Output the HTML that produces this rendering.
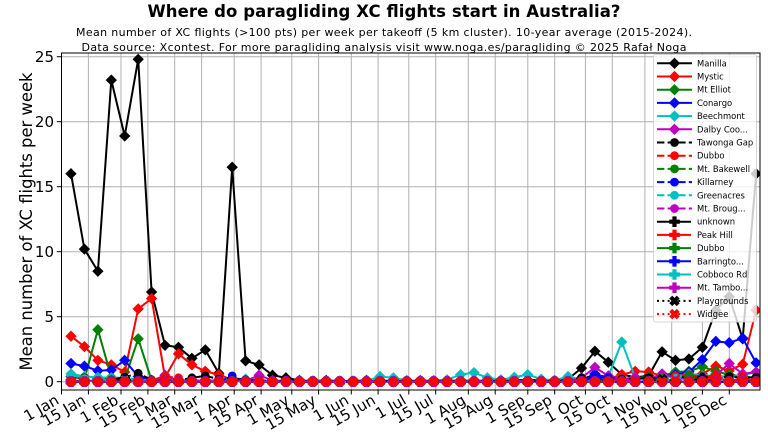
<!DOCTYPE html>
<html><head><meta charset="utf-8">
<style>
html,body{margin:0;padding:0;background:#fff;width:768px;height:432px;overflow:hidden}
svg{display:block}
text{font-family:"DejaVu Sans","Liberation Sans",sans-serif;fill:#000}
</style></head>
<body>
<svg width="768" height="432" viewBox="0 0 768 432" xmlns="http://www.w3.org/2000/svg">
<defs>
<clipPath id="ax"><rect x="61.5" y="53" width="698.5" height="337"/></clipPath>
<marker id="Dk" markerUnits="userSpaceOnUse" markerWidth="14" markerHeight="14" viewBox="-7 -7 14 14" refX="0" refY="0" overflow="visible"><path d="M0,-4.8L4.8,0L0,4.8L-4.8,0Z" fill="#000" stroke="#000" stroke-width="1.2"/></marker>
<marker id="Dr" markerUnits="userSpaceOnUse" markerWidth="14" markerHeight="14" viewBox="-7 -7 14 14" refX="0" refY="0" overflow="visible"><path d="M0,-4.8L4.8,0L0,4.8L-4.8,0Z" fill="#f00" stroke="#f00" stroke-width="1.2"/></marker>
<marker id="Dg" markerUnits="userSpaceOnUse" markerWidth="14" markerHeight="14" viewBox="-7 -7 14 14" refX="0" refY="0" overflow="visible"><path d="M0,-4.8L4.8,0L0,4.8L-4.8,0Z" fill="#008000" stroke="#008000" stroke-width="1.2"/></marker>
<marker id="Db" markerUnits="userSpaceOnUse" markerWidth="14" markerHeight="14" viewBox="-7 -7 14 14" refX="0" refY="0" overflow="visible"><path d="M0,-4.8L4.8,0L0,4.8L-4.8,0Z" fill="#00f" stroke="#00f" stroke-width="1.2"/></marker>
<marker id="Dc" markerUnits="userSpaceOnUse" markerWidth="14" markerHeight="14" viewBox="-7 -7 14 14" refX="0" refY="0" overflow="visible"><path d="M0,-4.8L4.8,0L0,4.8L-4.8,0Z" fill="#00bfbf" stroke="#00bfbf" stroke-width="1.2"/></marker>
<marker id="Dm" markerUnits="userSpaceOnUse" markerWidth="14" markerHeight="14" viewBox="-7 -7 14 14" refX="0" refY="0" overflow="visible"><path d="M0,-4.8L4.8,0L0,4.8L-4.8,0Z" fill="#bf00bf" stroke="#bf00bf" stroke-width="1.2"/></marker>
<marker id="Ok" markerUnits="userSpaceOnUse" markerWidth="14" markerHeight="14" viewBox="-7 -7 14 14" refX="0" refY="0" overflow="visible"><circle r="3.8" fill="#000" stroke="#000" stroke-width="1.2"/></marker>
<marker id="Or" markerUnits="userSpaceOnUse" markerWidth="14" markerHeight="14" viewBox="-7 -7 14 14" refX="0" refY="0" overflow="visible"><circle r="3.8" fill="#f00" stroke="#f00" stroke-width="1.2"/></marker>
<marker id="Og" markerUnits="userSpaceOnUse" markerWidth="14" markerHeight="14" viewBox="-7 -7 14 14" refX="0" refY="0" overflow="visible"><circle r="3.8" fill="#008000" stroke="#008000" stroke-width="1.2"/></marker>
<marker id="Ob" markerUnits="userSpaceOnUse" markerWidth="14" markerHeight="14" viewBox="-7 -7 14 14" refX="0" refY="0" overflow="visible"><circle r="3.8" fill="#00f" stroke="#00f" stroke-width="1.2"/></marker>
<marker id="Oc" markerUnits="userSpaceOnUse" markerWidth="14" markerHeight="14" viewBox="-7 -7 14 14" refX="0" refY="0" overflow="visible"><circle r="3.8" fill="#00bfbf" stroke="#00bfbf" stroke-width="1.2"/></marker>
<marker id="Om" markerUnits="userSpaceOnUse" markerWidth="14" markerHeight="14" viewBox="-7 -7 14 14" refX="0" refY="0" overflow="visible"><circle r="3.8" fill="#bf00bf" stroke="#bf00bf" stroke-width="1.2"/></marker>
<marker id="Pk" markerUnits="userSpaceOnUse" markerWidth="14" markerHeight="14" viewBox="-7 -7 14 14" refX="0" refY="0" overflow="visible"><path d="M-1.6,-4.8H1.6V-1.6H4.8V1.6H1.6V4.8H-1.6V1.6H-4.8V-1.6H-1.6Z" fill="#000" stroke="#000" stroke-width="1"/></marker>
<marker id="Pr" markerUnits="userSpaceOnUse" markerWidth="14" markerHeight="14" viewBox="-7 -7 14 14" refX="0" refY="0" overflow="visible"><path d="M-1.6,-4.8H1.6V-1.6H4.8V1.6H1.6V4.8H-1.6V1.6H-4.8V-1.6H-1.6Z" fill="#f00" stroke="#f00" stroke-width="1"/></marker>
<marker id="Pg" markerUnits="userSpaceOnUse" markerWidth="14" markerHeight="14" viewBox="-7 -7 14 14" refX="0" refY="0" overflow="visible"><path d="M-1.6,-4.8H1.6V-1.6H4.8V1.6H1.6V4.8H-1.6V1.6H-4.8V-1.6H-1.6Z" fill="#008000" stroke="#008000" stroke-width="1"/></marker>
<marker id="Pb" markerUnits="userSpaceOnUse" markerWidth="14" markerHeight="14" viewBox="-7 -7 14 14" refX="0" refY="0" overflow="visible"><path d="M-1.6,-4.8H1.6V-1.6H4.8V1.6H1.6V4.8H-1.6V1.6H-4.8V-1.6H-1.6Z" fill="#00f" stroke="#00f" stroke-width="1"/></marker>
<marker id="Pc" markerUnits="userSpaceOnUse" markerWidth="14" markerHeight="14" viewBox="-7 -7 14 14" refX="0" refY="0" overflow="visible"><path d="M-1.6,-4.8H1.6V-1.6H4.8V1.6H1.6V4.8H-1.6V1.6H-4.8V-1.6H-1.6Z" fill="#00bfbf" stroke="#00bfbf" stroke-width="1"/></marker>
<marker id="Pm" markerUnits="userSpaceOnUse" markerWidth="14" markerHeight="14" viewBox="-7 -7 14 14" refX="0" refY="0" overflow="visible"><path d="M-1.6,-4.8H1.6V-1.6H4.8V1.6H1.6V4.8H-1.6V1.6H-4.8V-1.6H-1.6Z" fill="#bf00bf" stroke="#bf00bf" stroke-width="1"/></marker>
<marker id="Xk" markerUnits="userSpaceOnUse" markerWidth="14" markerHeight="14" viewBox="-7 -7 14 14" refX="0" refY="0" overflow="visible"><path transform="rotate(45)" d="M-1.6,-4.8H1.6V-1.6H4.8V1.6H1.6V4.8H-1.6V1.6H-4.8V-1.6H-1.6Z" fill="#000" stroke="#000" stroke-width="1"/></marker>
<marker id="Xr" markerUnits="userSpaceOnUse" markerWidth="14" markerHeight="14" viewBox="-7 -7 14 14" refX="0" refY="0" overflow="visible"><path transform="rotate(45)" d="M-1.6,-4.8H1.6V-1.6H4.8V1.6H1.6V4.8H-1.6V1.6H-4.8V-1.6H-1.6Z" fill="#f00" stroke="#f00" stroke-width="1"/></marker>
</defs>

<rect width="768" height="432" fill="#fff"/>

<!-- grid -->
<g stroke="#b0b0b0" stroke-width="1" fill="none">
<line x1="61.5" y1="381.7" x2="760" y2="381.7"/>
<line x1="61.5" y1="316.7" x2="760" y2="316.7"/>
<line x1="61.5" y1="251.7" x2="760" y2="251.7"/>
<line x1="61.5" y1="186.7" x2="760" y2="186.7"/>
<line x1="61.5" y1="121.7" x2="760" y2="121.7"/>
<line x1="61.5" y1="56.7" x2="760" y2="56.7"/>
<line x1="88.4" y1="53" x2="88.4" y2="390"/>
<line x1="121.0" y1="53" x2="121.0" y2="390"/>
<line x1="147.9" y1="53" x2="147.9" y2="390"/>
<line x1="174.7" y1="53" x2="174.7" y2="390"/>
<line x1="201.6" y1="53" x2="201.6" y2="390"/>
<line x1="234.2" y1="53" x2="234.2" y2="390"/>
<line x1="261.1" y1="53" x2="261.1" y2="390"/>
<line x1="291.8" y1="53" x2="291.8" y2="390"/>
<line x1="318.6" y1="53" x2="318.6" y2="390"/>
<line x1="351.3" y1="53" x2="351.3" y2="390"/>
<line x1="378.1" y1="53" x2="378.1" y2="390"/>
<line x1="408.8" y1="53" x2="408.8" y2="390"/>
<line x1="435.7" y1="53" x2="435.7" y2="390"/>
<line x1="468.3" y1="53" x2="468.3" y2="390"/>
<line x1="495.2" y1="53" x2="495.2" y2="390"/>
<line x1="527.8" y1="53" x2="527.8" y2="390"/>
<line x1="554.7" y1="53" x2="554.7" y2="390"/>
<line x1="585.4" y1="53" x2="585.4" y2="390"/>
<line x1="612.3" y1="53" x2="612.3" y2="390"/>
<line x1="644.9" y1="53" x2="644.9" y2="390"/>
<line x1="671.7" y1="53" x2="671.7" y2="390"/>
<line x1="702.4" y1="53" x2="702.4" y2="390"/>
<line x1="729.3" y1="53" x2="729.3" y2="390"/>
</g>

<!-- series -->
<g clip-path="url(#ax)" fill="none" stroke-width="2" stroke-linejoin="round">
<polyline stroke="#000" marker-start="url(#Dk)" marker-mid="url(#Dk)" marker-end="url(#Dk)" points="71.0,173.7 84.4,249.1 97.9,271.2 111.3,80.1 124.7,136.0 138.2,59.3 151.6,292.0 165.0,345.3 178.5,347.3 191.9,358.3 205.3,349.9 218.8,373.2 232.2,167.2 245.6,360.9 259.1,364.8 272.5,375.2 285.9,377.8 299.4,380.4 312.8,381.1 326.2,380.4 339.7,381.1 353.1,381.1 366.5,380.4 380.0,381.1 393.4,381.7 406.8,381.7 420.3,381.1 433.7,381.1 447.1,381.1 460.6,380.4 474.0,381.1 487.4,380.4 500.9,381.1 514.3,380.4 527.7,379.7 541.2,380.4 554.6,380.4 568.0,379.1 581.5,368.1 594.9,351.2 608.3,362.2 621.8,374.6 635.2,377.2 648.6,375.9 662.1,351.8 675.5,360.3 688.9,359.0 702.4,347.3 715.8,310.2 729.2,296.6 742.7,338.8 756.1,173.7"/>
<polyline stroke="#f00" marker-start="url(#Dr)" marker-mid="url(#Dr)" marker-end="url(#Dr)" points="71.0,336.2 84.4,346.6 97.9,360.3 111.3,364.8 124.7,372.0 138.2,308.9 151.6,298.5 165.0,377.2 178.5,353.8 191.9,364.8 205.3,371.3 218.8,374.6 232.2,379.8 245.6,380.4 259.1,381.1 272.5,381.1 285.9,381.1 299.4,381.1 312.8,381.1 326.2,381.1 339.7,381.1 353.1,381.1 366.5,381.1 380.0,381.1 393.4,380.4 406.8,381.1 420.3,381.1 433.7,381.1 447.1,381.1 460.6,381.1 474.0,381.1 487.4,381.1 500.9,381.1 514.3,381.1 527.7,380.4 541.2,381.1 554.6,381.1 568.0,381.1 581.5,380.4 594.9,379.8 608.3,379.1 621.8,374.6 635.2,371.3 648.6,372.0 662.1,375.9 675.5,372.6 688.9,375.2 702.4,373.9 715.8,366.1 729.2,370.7 742.7,364.2 756.1,310.2"/>
<polyline stroke="#008000" marker-start="url(#Dg)" marker-mid="url(#Dg)" marker-end="url(#Dg)" points="71.0,376.5 84.4,379.1 97.9,329.7 111.3,377.2 124.7,379.1 138.2,338.8 151.6,380.4 165.0,381.1 178.5,381.1 191.9,381.1 205.3,381.1 218.8,381.1 232.2,381.1 245.6,381.1 259.1,381.1 272.5,381.1 285.9,381.1 299.4,381.1 312.8,381.1 326.2,381.1 339.7,381.1 353.1,381.1 366.5,381.1 380.0,381.1 393.4,381.1 406.8,381.1 420.3,381.1 433.7,381.1 447.1,381.1 460.6,381.1 474.0,381.1 487.4,381.1 500.9,381.1 514.3,381.1 527.7,381.1 541.2,381.1 554.6,381.1 568.0,381.1 581.5,381.1 594.9,380.4 608.3,380.4 621.8,379.1 635.2,377.8 648.6,377.2 662.1,375.9 675.5,372.0 688.9,371.3 702.4,366.8 715.8,371.3 729.2,374.6 742.7,376.5 756.1,377.8"/>
<polyline stroke="#00f" marker-start="url(#Db)" marker-mid="url(#Db)" marker-end="url(#Db)" points="71.0,363.5 84.4,366.1 97.9,370.7 111.3,370.0 124.7,360.3 138.2,376.5 151.6,380.4 165.0,381.3 178.5,381.3 191.9,381.3 205.3,381.3 218.8,381.3 232.2,380.4 245.6,381.3 259.1,381.3 272.5,381.3 285.9,381.3 299.4,381.3 312.8,381.3 326.2,381.3 339.7,381.3 353.1,381.3 366.5,381.3 380.0,381.3 393.4,381.3 406.8,381.3 420.3,381.3 433.7,381.3 447.1,381.3 460.6,381.3 474.0,381.3 487.4,381.3 500.9,381.3 514.3,381.3 527.7,381.3 541.2,381.3 554.6,381.3 568.0,381.3 581.5,380.4 594.9,373.9 608.3,377.8 621.8,379.8 635.2,378.5 648.6,378.5 662.1,376.5 675.5,374.6 688.9,372.0 702.4,359.6 715.8,341.4 729.2,342.7 742.7,338.2 756.1,362.9"/>
<polyline stroke="#00bfbf" marker-start="url(#Dc)" marker-mid="url(#Dc)" marker-end="url(#Dc)" points="71.0,373.9 84.4,376.5 97.9,377.2 111.3,377.8 124.7,377.8 138.2,379.8 151.6,380.4 165.0,379.1 178.5,379.8 191.9,380.4 205.3,380.4 218.8,380.4 232.2,378.5 245.6,379.1 259.1,380.4 272.5,381.1 285.9,381.1 299.4,381.1 312.8,381.1 326.2,381.1 339.7,381.1 353.1,381.1 366.5,381.1 380.0,376.5 393.4,377.8 406.8,380.4 420.3,381.1 433.7,380.4 447.1,379.8 460.6,374.6 474.0,372.6 487.4,377.8 500.9,379.8 514.3,377.2 527.7,374.6 541.2,379.1 554.6,380.4 568.0,376.5 581.5,379.8 594.9,379.1 608.3,376.5 621.8,342.0 635.2,377.8 648.6,379.1 662.1,377.8 675.5,376.5 688.9,373.9 702.4,375.9 715.8,375.2 729.2,377.2 742.7,375.2 756.1,372.0"/>
<polyline stroke="#bf00bf" marker-start="url(#Dm)" marker-mid="url(#Dm)" marker-end="url(#Dm)" points="71.0,381.1 84.4,380.4 97.9,381.1 111.3,381.1 124.7,381.1 138.2,381.1 151.6,381.1 165.0,375.2 178.5,381.1 191.9,381.1 205.3,381.1 218.8,381.1 232.2,381.1 245.6,381.1 259.1,375.2 272.5,380.4 285.9,381.1 299.4,381.1 312.8,381.1 326.2,381.1 339.7,381.1 353.1,381.1 366.5,381.1 380.0,381.1 393.4,381.1 406.8,381.1 420.3,380.4 433.7,381.1 447.1,381.1 460.6,381.1 474.0,381.1 487.4,381.1 500.9,381.1 514.3,381.1 527.7,381.1 541.2,381.1 554.6,381.1 568.0,381.1 581.5,377.8 594.9,367.4 608.3,375.9 621.8,379.1 635.2,377.2 648.6,379.1 662.1,373.9 675.5,377.8 688.9,379.1 702.4,377.2 715.8,375.2 729.2,363.5 742.7,373.9 756.1,372.0"/>
<polyline stroke="#000" stroke-dasharray="7.4 3.2" marker-start="url(#Ok)" marker-mid="url(#Ok)" marker-end="url(#Ok)" points="71.0,377.2 84.4,377.8 97.9,379.1 111.3,379.8 124.7,377.2 138.2,373.3 151.6,379.8 165.0,380.4 178.5,380.4 191.9,377.8 205.3,375.9 218.8,379.1 232.2,377.8 245.6,379.8 259.1,380.4 272.5,381.1 285.9,381.1 299.4,381.1 312.8,381.1 326.2,381.1 339.7,381.1 353.1,381.1 366.5,381.1 380.0,381.1 393.4,381.1 406.8,381.1 420.3,381.1 433.7,381.1 447.1,381.1 460.6,381.1 474.0,381.1 487.4,381.1 500.9,381.1 514.3,381.1 527.7,381.1 541.2,381.1 554.6,381.1 568.0,381.1 581.5,377.8 594.9,376.5 608.3,377.8 621.8,379.1 635.2,379.1 648.6,377.8 662.1,379.1 675.5,377.8 688.9,376.5 702.4,377.8 715.8,377.8 729.2,376.5 742.7,377.8 756.1,377.2"/>
<polyline stroke="#f00" stroke-dasharray="7.4 3.2" marker-start="url(#Or)" marker-mid="url(#Or)" marker-end="url(#Or)" points="71.0,381.7 84.4,381.7 97.9,381.7 111.3,381.7 124.7,381.7 138.2,381.7 151.6,381.7 165.0,376.5 178.5,377.8 191.9,381.7 205.3,381.7 218.8,381.7 232.2,381.7 245.6,381.7 259.1,381.7 272.5,381.7 285.9,381.7 299.4,381.7 312.8,381.7 326.2,381.7 339.7,381.7 353.1,381.7 366.5,381.7 380.0,381.7 393.4,381.7 406.8,381.7 420.3,381.7 433.7,381.7 447.1,381.7 460.6,381.7 474.0,381.7 487.4,381.7 500.9,381.7 514.3,381.7 527.7,381.7 541.2,381.7 554.6,381.7 568.0,381.7 581.5,381.7 594.9,381.7 608.3,377.8 621.8,381.7 635.2,381.7 648.6,381.7 662.1,381.7 675.5,375.9 688.9,374.6 702.4,377.2 715.8,376.5 729.2,381.7 742.7,377.8 756.1,381.7"/>
<polyline stroke="#008000" stroke-dasharray="7.4 3.2" marker-start="url(#Og)" marker-mid="url(#Og)" marker-end="url(#Og)" points="71.0,381.7 84.4,381.7 97.9,381.7 111.3,381.7 124.7,381.7 138.2,381.7 151.6,381.7 165.0,381.7 178.5,381.7 191.9,381.7 205.3,381.7 218.8,381.7 232.2,381.7 245.6,381.7 259.1,381.7 272.5,381.7 285.9,381.7 299.4,381.7 312.8,381.7 326.2,381.7 339.7,381.7 353.1,381.7 366.5,381.7 380.0,381.7 393.4,381.7 406.8,381.7 420.3,381.7 433.7,381.7 447.1,381.7 460.6,381.7 474.0,381.7 487.4,381.7 500.9,381.7 514.3,381.7 527.7,381.7 541.2,381.7 554.6,381.7 568.0,381.7 581.5,381.7 594.9,381.7 608.3,381.7 621.8,381.7 635.2,381.7 648.6,381.7 662.1,377.8 675.5,381.7 688.9,375.2 702.4,381.7 715.8,376.5 729.2,381.7 742.7,381.7 756.1,381.7"/>
<polyline stroke="#00f" stroke-dasharray="7.4 3.2" marker-start="url(#Ob)" marker-mid="url(#Ob)" marker-end="url(#Ob)" points="71.0,381.7 84.4,381.7 97.9,381.7 111.3,381.7 124.7,381.7 138.2,381.7 151.6,381.7 165.0,381.7 178.5,381.7 191.9,381.7 205.3,381.7 218.8,381.7 232.2,375.9 245.6,381.7 259.1,381.7 272.5,381.7 285.9,381.7 299.4,381.7 312.8,381.7 326.2,381.7 339.7,381.7 353.1,381.7 366.5,381.7 380.0,381.7 393.4,381.7 406.8,381.7 420.3,381.7 433.7,381.7 447.1,381.7 460.6,381.7 474.0,381.7 487.4,381.7 500.9,381.7 514.3,381.7 527.7,381.7 541.2,381.7 554.6,381.7 568.0,381.7 581.5,381.7 594.9,374.6 608.3,377.8 621.8,381.7 635.2,381.7 648.6,381.7 662.1,381.7 675.5,381.7 688.9,381.7 702.4,377.8 715.8,381.7 729.2,381.7 742.7,381.7 756.1,381.7"/>
<polyline stroke="#00bfbf" stroke-dasharray="7.4 3.2" marker-start="url(#Oc)" marker-mid="url(#Oc)" marker-end="url(#Oc)" points="71.0,375.2 84.4,378.5 97.9,377.8 111.3,381.7 124.7,379.1 138.2,381.7 151.6,381.7 165.0,381.7 178.5,381.7 191.9,381.7 205.3,381.7 218.8,381.7 232.2,381.7 245.6,381.7 259.1,381.7 272.5,381.7 285.9,381.7 299.4,381.7 312.8,381.7 326.2,381.7 339.7,381.7 353.1,381.7 366.5,381.7 380.0,381.7 393.4,381.7 406.8,381.7 420.3,381.7 433.7,381.7 447.1,381.7 460.6,381.7 474.0,381.7 487.4,381.7 500.9,381.7 514.3,381.7 527.7,381.7 541.2,381.7 554.6,381.7 568.0,381.7 581.5,381.7 594.9,381.7 608.3,381.7 621.8,381.7 635.2,381.7 648.6,381.7 662.1,381.7 675.5,381.7 688.9,381.7 702.4,381.7 715.8,381.7 729.2,381.7 742.7,381.7 756.1,381.7"/>
<polyline stroke="#bf00bf" stroke-dasharray="7.4 3.2" marker-start="url(#Om)" marker-mid="url(#Om)" marker-end="url(#Om)" points="71.0,381.7 84.4,381.7 97.9,381.7 111.3,381.7 124.7,381.7 138.2,381.7 151.6,381.7 165.0,381.7 178.5,381.7 191.9,381.7 205.3,381.7 218.8,381.7 232.2,381.7 245.6,381.7 259.1,381.7 272.5,381.7 285.9,381.7 299.4,381.7 312.8,381.7 326.2,381.7 339.7,381.7 353.1,381.7 366.5,381.7 380.0,381.7 393.4,381.7 406.8,381.7 420.3,381.7 433.7,381.7 447.1,381.7 460.6,381.7 474.0,381.7 487.4,381.7 500.9,381.7 514.3,381.7 527.7,381.7 541.2,381.7 554.6,381.7 568.0,381.7 581.5,381.7 594.9,381.7 608.3,381.7 621.8,381.7 635.2,377.8 648.6,381.7 662.1,381.7 675.5,381.7 688.9,381.7 702.4,381.7 715.8,376.5 729.2,381.7 742.7,381.7 756.1,381.7"/>
<polyline stroke="#000" stroke-dasharray="12.8 3.2 2 3.2" marker-start="url(#Pk)" marker-mid="url(#Pk)" marker-end="url(#Pk)" points="71.0,381.7 84.4,381.7 97.9,381.7 111.3,381.7 124.7,379.1 138.2,381.7 151.6,381.7 165.0,381.7 178.5,381.7 191.9,381.7 205.3,381.7 218.8,381.7 232.2,381.7 245.6,381.7 259.1,381.7 272.5,381.7 285.9,381.7 299.4,381.7 312.8,381.7 326.2,381.7 339.7,381.7 353.1,381.7 366.5,381.7 380.0,381.7 393.4,381.7 406.8,381.7 420.3,381.7 433.7,381.7 447.1,381.7 460.6,381.7 474.0,381.7 487.4,381.7 500.9,381.7 514.3,381.7 527.7,381.7 541.2,381.7 554.6,381.7 568.0,381.7 581.5,381.7 594.9,381.7 608.3,381.7 621.8,381.7 635.2,381.7 648.6,381.7 662.1,381.7 675.5,381.7 688.9,381.7 702.4,377.8 715.8,381.7 729.2,381.7 742.7,378.5 756.1,381.7"/>
<polyline stroke="#f00" stroke-dasharray="12.8 3.2 2 3.2" marker-start="url(#Pr)" marker-mid="url(#Pr)" marker-end="url(#Pr)" points="71.0,381.7 84.4,381.7 97.9,381.7 111.3,381.7 124.7,381.7 138.2,381.7 151.6,381.7 165.0,381.7 178.5,381.7 191.9,381.7 205.3,381.7 218.8,381.7 232.2,381.7 245.6,381.7 259.1,381.7 272.5,381.7 285.9,381.7 299.4,381.7 312.8,381.7 326.2,381.7 339.7,381.7 353.1,381.7 366.5,381.7 380.0,381.7 393.4,381.7 406.8,381.7 420.3,381.7 433.7,381.7 447.1,381.7 460.6,381.7 474.0,381.7 487.4,381.7 500.9,381.7 514.3,381.7 527.7,381.7 541.2,381.7 554.6,381.7 568.0,381.7 581.5,381.7 594.9,381.7 608.3,381.7 621.8,381.7 635.2,381.7 648.6,381.7 662.1,381.7 675.5,381.7 688.9,381.7 702.4,381.7 715.8,375.2 729.2,381.7 742.7,377.8 756.1,381.7"/>
<polyline stroke="#008000" stroke-dasharray="12.8 3.2 2 3.2" marker-start="url(#Pg)" marker-mid="url(#Pg)" marker-end="url(#Pg)" points="71.0,381.7 84.4,381.7 97.9,381.7 111.3,381.7 124.7,381.7 138.2,381.7 151.6,381.7 165.0,381.7 178.5,381.7 191.9,381.7 205.3,381.7 218.8,381.7 232.2,381.7 245.6,381.7 259.1,381.7 272.5,381.7 285.9,381.7 299.4,381.7 312.8,381.7 326.2,381.7 339.7,381.7 353.1,381.7 366.5,381.7 380.0,381.7 393.4,381.7 406.8,381.7 420.3,381.7 433.7,381.7 447.1,381.7 460.6,381.7 474.0,381.7 487.4,381.7 500.9,381.7 514.3,381.7 527.7,381.7 541.2,381.7 554.6,381.7 568.0,381.7 581.5,381.7 594.9,381.7 608.3,381.7 621.8,381.7 635.2,381.7 648.6,381.7 662.1,381.7 675.5,381.7 688.9,381.7 702.4,381.7 715.8,381.7 729.2,381.7 742.7,381.7 756.1,381.7"/>
<polyline stroke="#00f" stroke-dasharray="12.8 3.2 2 3.2" marker-start="url(#Pb)" marker-mid="url(#Pb)" marker-end="url(#Pb)" points="71.0,381.7 84.4,381.7 97.9,381.7 111.3,381.7 124.7,381.7 138.2,381.7 151.6,381.7 165.0,381.7 178.5,381.7 191.9,381.7 205.3,381.7 218.8,381.7 232.2,381.7 245.6,381.7 259.1,381.7 272.5,381.7 285.9,381.7 299.4,381.7 312.8,381.7 326.2,381.7 339.7,381.7 353.1,381.7 366.5,381.7 380.0,381.7 393.4,381.7 406.8,381.7 420.3,381.7 433.7,381.7 447.1,381.7 460.6,381.7 474.0,381.7 487.4,381.7 500.9,381.7 514.3,381.7 527.7,381.7 541.2,381.7 554.6,381.7 568.0,381.7 581.5,381.7 594.9,376.5 608.3,381.7 621.8,381.7 635.2,381.7 648.6,381.7 662.1,381.7 675.5,381.7 688.9,381.7 702.4,381.7 715.8,381.7 729.2,381.7 742.7,381.7 756.1,381.7"/>
<polyline stroke="#00bfbf" stroke-dasharray="12.8 3.2 2 3.2" marker-start="url(#Pc)" marker-mid="url(#Pc)" marker-end="url(#Pc)" points="71.0,381.7 84.4,381.7 97.9,381.7 111.3,381.7 124.7,381.7 138.2,381.7 151.6,381.7 165.0,381.7 178.5,381.7 191.9,381.7 205.3,381.7 218.8,381.7 232.2,381.7 245.6,381.7 259.1,381.7 272.5,381.7 285.9,381.7 299.4,381.7 312.8,381.7 326.2,381.7 339.7,381.7 353.1,381.7 366.5,381.7 380.0,381.7 393.4,381.7 406.8,381.7 420.3,381.7 433.7,381.7 447.1,381.7 460.6,381.7 474.0,381.7 487.4,381.7 500.9,381.7 514.3,381.7 527.7,381.7 541.2,381.7 554.6,381.7 568.0,381.7 581.5,381.7 594.9,381.7 608.3,381.7 621.8,381.7 635.2,381.7 648.6,381.7 662.1,381.7 675.5,379.1 688.9,381.7 702.4,381.7 715.8,381.7 729.2,381.7 742.7,381.7 756.1,381.7"/>
<polyline stroke="#bf00bf" stroke-dasharray="12.8 3.2 2 3.2" marker-start="url(#Pm)" marker-mid="url(#Pm)" marker-end="url(#Pm)" points="71.0,381.7 84.4,381.7 97.9,381.7 111.3,381.7 124.7,381.7 138.2,381.7 151.6,381.7 165.0,381.7 178.5,381.7 191.9,381.7 205.3,381.7 218.8,381.7 232.2,381.7 245.6,381.7 259.1,381.7 272.5,381.7 285.9,381.7 299.4,381.7 312.8,381.7 326.2,381.7 339.7,381.7 353.1,381.7 366.5,381.7 380.0,381.7 393.4,381.7 406.8,381.7 420.3,381.7 433.7,381.7 447.1,381.7 460.6,381.7 474.0,381.7 487.4,381.7 500.9,381.7 514.3,381.7 527.7,381.7 541.2,381.7 554.6,381.7 568.0,381.7 581.5,381.7 594.9,381.7 608.3,381.7 621.8,381.7 635.2,381.7 648.6,381.7 662.1,381.7 675.5,381.7 688.9,381.7 702.4,381.7 715.8,381.7 729.2,381.7 742.7,381.7 756.1,381.7"/>
<polyline stroke="#000" stroke-dasharray="2 3.3" marker-start="url(#Xk)" marker-mid="url(#Xk)" marker-end="url(#Xk)" points="71.0,381.7 84.4,381.7 97.9,381.7 111.3,381.7 124.7,381.7 138.2,381.7 151.6,381.7 165.0,381.7 178.5,381.7 191.9,381.7 205.3,381.7 218.8,381.7 232.2,381.7 245.6,381.7 259.1,381.7 272.5,381.7 285.9,381.7 299.4,381.7 312.8,381.7 326.2,381.7 339.7,381.7 353.1,381.7 366.5,381.7 380.0,381.7 393.4,381.7 406.8,381.7 420.3,381.7 433.7,381.7 447.1,381.7 460.6,381.7 474.0,381.7 487.4,381.7 500.9,381.7 514.3,381.7 527.7,381.7 541.2,381.7 554.6,381.7 568.0,381.7 581.5,381.7 594.9,381.7 608.3,381.7 621.8,381.7 635.2,381.7 648.6,381.7 662.1,379.1 675.5,381.7 688.9,381.7 702.4,381.7 715.8,381.7 729.2,381.7 742.7,381.7 756.1,381.7"/>
<polyline stroke="#f00" stroke-dasharray="2 3.3" marker-start="url(#Xr)" marker-mid="url(#Xr)" marker-end="url(#Xr)" points="71.0,381.7 84.4,381.7 97.9,381.7 111.3,381.7 124.7,381.7 138.2,381.7 151.6,381.7 165.0,381.7 178.5,381.7 191.9,381.7 205.3,381.7 218.8,381.7 232.2,381.7 245.6,381.7 259.1,381.7 272.5,381.7 285.9,381.7 299.4,381.7 312.8,381.7 326.2,381.7 339.7,381.7 353.1,381.7 366.5,381.7 380.0,381.7 393.4,381.7 406.8,381.7 420.3,381.7 433.7,381.7 447.1,381.7 460.6,381.7 474.0,381.7 487.4,381.7 500.9,381.7 514.3,381.7 527.7,381.7 541.2,381.7 554.6,381.7 568.0,381.7 581.5,381.7 594.9,381.7 608.3,381.7 621.8,381.7 635.2,381.7 648.6,381.7 662.1,381.7 675.5,381.7 688.9,381.7 702.4,381.7 715.8,381.7 729.2,381.7 742.7,381.7 756.1,381.7"/>
</g>

<!-- spines -->
<rect x="61.5" y="53" width="698.5" height="337" fill="none" stroke="#000" stroke-width="1"/>

<!-- y ticks -->
<g stroke="#000" stroke-width="1">
<line x1="56.8" y1="381.7" x2="61.5" y2="381.7"/>
<line x1="56.8" y1="316.7" x2="61.5" y2="316.7"/>
<line x1="56.8" y1="251.7" x2="61.5" y2="251.7"/>
<line x1="56.8" y1="186.7" x2="61.5" y2="186.7"/>
<line x1="56.8" y1="121.7" x2="61.5" y2="121.7"/>
<line x1="56.8" y1="56.7" x2="61.5" y2="56.7"/>
</g>
<g font-size="15" text-anchor="end">
<text x="54" y="387.2">0</text>
<text x="54" y="322.2">5</text>
<text x="54" y="257.2">10</text>
<text x="54" y="192.2">15</text>
<text x="54" y="127.2">20</text>
<text x="54" y="62.2">25</text>
</g>

<!-- x ticks -->
<g stroke="#000" stroke-width="1">
<line x1="61.5" y1="390" x2="61.5" y2="394.5"/>
<line x1="88.4" y1="390" x2="88.4" y2="394.5"/>
<line x1="121.0" y1="390" x2="121.0" y2="394.5"/>
<line x1="147.9" y1="390" x2="147.9" y2="394.5"/>
<line x1="174.7" y1="390" x2="174.7" y2="394.5"/>
<line x1="201.6" y1="390" x2="201.6" y2="394.5"/>
<line x1="234.2" y1="390" x2="234.2" y2="394.5"/>
<line x1="261.1" y1="390" x2="261.1" y2="394.5"/>
<line x1="291.8" y1="390" x2="291.8" y2="394.5"/>
<line x1="318.6" y1="390" x2="318.6" y2="394.5"/>
<line x1="351.3" y1="390" x2="351.3" y2="394.5"/>
<line x1="378.1" y1="390" x2="378.1" y2="394.5"/>
<line x1="408.8" y1="390" x2="408.8" y2="394.5"/>
<line x1="435.7" y1="390" x2="435.7" y2="394.5"/>
<line x1="468.3" y1="390" x2="468.3" y2="394.5"/>
<line x1="495.2" y1="390" x2="495.2" y2="394.5"/>
<line x1="527.8" y1="390" x2="527.8" y2="394.5"/>
<line x1="554.7" y1="390" x2="554.7" y2="394.5"/>
<line x1="585.4" y1="390" x2="585.4" y2="394.5"/>
<line x1="612.3" y1="390" x2="612.3" y2="394.5"/>
<line x1="644.9" y1="390" x2="644.9" y2="394.5"/>
<line x1="671.7" y1="390" x2="671.7" y2="394.5"/>
<line x1="702.4" y1="390" x2="702.4" y2="394.5"/>
<line x1="729.3" y1="390" x2="729.3" y2="394.5"/>
</g>
<g font-size="15" text-anchor="end">
<text transform="translate(60,403) rotate(-30)">1 Jan</text>
<text transform="translate(86.9,403) rotate(-30)">15 Jan</text>
<text transform="translate(119.5,403) rotate(-30)">1 Feb</text>
<text transform="translate(146.4,403) rotate(-30)">15 Feb</text>
<text transform="translate(173.2,403) rotate(-30)">1 Mar</text>
<text transform="translate(200.1,403) rotate(-30)">15 Mar</text>
<text transform="translate(232.7,403) rotate(-30)">1 Apr</text>
<text transform="translate(259.6,403) rotate(-30)">15 Apr</text>
<text transform="translate(290.3,403) rotate(-30)">1 May</text>
<text transform="translate(317.1,403) rotate(-30)">15 May</text>
<text transform="translate(349.8,403) rotate(-30)">1 Jun</text>
<text transform="translate(376.6,403) rotate(-30)">15 Jun</text>
<text transform="translate(407.3,403) rotate(-30)">1 Jul</text>
<text transform="translate(434.2,403) rotate(-30)">15 Jul</text>
<text transform="translate(466.8,403) rotate(-30)">1 Aug</text>
<text transform="translate(493.7,403) rotate(-30)">15 Aug</text>
<text transform="translate(526.3,403) rotate(-30)">1 Sep</text>
<text transform="translate(553.2,403) rotate(-30)">15 Sep</text>
<text transform="translate(583.9,403) rotate(-30)">1 Oct</text>
<text transform="translate(610.8,403) rotate(-30)">15 Oct</text>
<text transform="translate(643.4,403) rotate(-30)">1 Nov</text>
<text transform="translate(670.2,403) rotate(-30)">15 Nov</text>
<text transform="translate(700.9,403) rotate(-30)">1 Dec</text>
<text transform="translate(727.8,403) rotate(-30)">15 Dec</text>
</g>

<!-- y label -->
<text transform="translate(32,221.5) rotate(-90)" text-anchor="middle" font-size="16.4">Mean number of XC flights per week</text>

<!-- legend -->
<rect x="653.5" y="54.5" width="103" height="267.5" rx="2.5" fill="#fff" fill-opacity="0.8" stroke="#cccccc" stroke-opacity="0.8" stroke-width="1"/>
<g fill="none" stroke-width="2">
<polyline stroke="#000" marker-mid="url(#Dk)" points="657,63.3 674.5,63.3 692,63.3"/>
<polyline stroke="#f00" marker-mid="url(#Dr)" points="657,76.5 674.5,76.5 692,76.5"/>
<polyline stroke="#008000" marker-mid="url(#Dg)" points="657,89.7 674.5,89.7 692,89.7"/>
<polyline stroke="#00f" marker-mid="url(#Db)" points="657,102.9 674.5,102.9 692,102.9"/>
<polyline stroke="#00bfbf" marker-mid="url(#Dc)" points="657,116.1 674.5,116.1 692,116.1"/>
<polyline stroke="#bf00bf" marker-mid="url(#Dm)" points="657,129.3 674.5,129.3 692,129.3"/>
<polyline stroke="#000" stroke-dasharray="7.4 3.2" marker-mid="url(#Ok)" points="657,142.5 674.5,142.5 692,142.5"/>
<polyline stroke="#f00" stroke-dasharray="7.4 3.2" marker-mid="url(#Or)" points="657,155.7 674.5,155.7 692,155.7"/>
<polyline stroke="#008000" stroke-dasharray="7.4 3.2" marker-mid="url(#Og)" points="657,168.9 674.5,168.9 692,168.9"/>
<polyline stroke="#00f" stroke-dasharray="7.4 3.2" marker-mid="url(#Ob)" points="657,182.1 674.5,182.1 692,182.1"/>
<polyline stroke="#00bfbf" stroke-dasharray="7.4 3.2" marker-mid="url(#Oc)" points="657,195.3 674.5,195.3 692,195.3"/>
<polyline stroke="#bf00bf" stroke-dasharray="7.4 3.2" marker-mid="url(#Om)" points="657,208.5 674.5,208.5 692,208.5"/>
<polyline stroke="#000" stroke-dasharray="12.8 3.2 2 3.2" marker-mid="url(#Pk)" points="657,221.7 674.5,221.7 692,221.7"/>
<polyline stroke="#f00" stroke-dasharray="12.8 3.2 2 3.2" marker-mid="url(#Pr)" points="657,234.9 674.5,234.9 692,234.9"/>
<polyline stroke="#008000" stroke-dasharray="12.8 3.2 2 3.2" marker-mid="url(#Pg)" points="657,248.1 674.5,248.1 692,248.1"/>
<polyline stroke="#00f" stroke-dasharray="12.8 3.2 2 3.2" marker-mid="url(#Pb)" points="657,261.3 674.5,261.3 692,261.3"/>
<polyline stroke="#00bfbf" stroke-dasharray="12.8 3.2 2 3.2" marker-mid="url(#Pc)" points="657,274.5 674.5,274.5 692,274.5"/>
<polyline stroke="#bf00bf" stroke-dasharray="12.8 3.2 2 3.2" marker-mid="url(#Pm)" points="657,287.7 674.5,287.7 692,287.7"/>
<polyline stroke="#000" stroke-dasharray="2 3.3" marker-mid="url(#Xk)" points="657,300.9 674.5,300.9 692,300.9"/>
<polyline stroke="#f00" stroke-dasharray="2 3.3" marker-mid="url(#Xr)" points="657,314.1 674.5,314.1 692,314.1"/>
</g>
<g font-size="8.4">
<text x="697" y="66.3">Manilla</text>
<text x="697" y="79.5">Mystic</text>
<text x="697" y="92.7">Mt Elliot</text>
<text x="697" y="105.9">Conargo</text>
<text x="697" y="119.1">Beechmont</text>
<text x="697" y="132.3">Dalby Coo...</text>
<text x="697" y="145.5">Tawonga Gap</text>
<text x="697" y="158.7">Dubbo</text>
<text x="697" y="171.9">Mt. Bakewell</text>
<text x="697" y="185.1">Killarney</text>
<text x="697" y="198.3">Greenacres</text>
<text x="697" y="211.5">Mt. Broug...</text>
<text x="697" y="224.7">unknown</text>
<text x="697" y="237.9">Peak Hill</text>
<text x="697" y="251.1">Dubbo</text>
<text x="697" y="264.3">Barringto...</text>
<text x="697" y="277.5">Cobboco Rd</text>
<text x="697" y="290.7">Mt. Tambo...</text>
<text x="697" y="303.9">Playgrounds</text>
<text x="697" y="317.1">Widgee</text>
</g>

<!-- titles -->
<text x="384" y="17" text-anchor="middle" font-size="16.5" font-weight="bold" textLength="473">Where do paragliding XC flights start in Australia?</text>
<text x="384" y="36" text-anchor="middle" font-size="11" textLength="616">Mean number of XC flights (&gt;100 pts) per week per takeoff (5 km cluster). 10-year average (2015-2024).</text>
<text x="384" y="51" text-anchor="middle" font-size="11" textLength="605">Data source: Xcontest. For more paragliding analysis visit www.noga.es/paragliding © 2025 Rafał Noga</text>
</svg>
</body></html>
